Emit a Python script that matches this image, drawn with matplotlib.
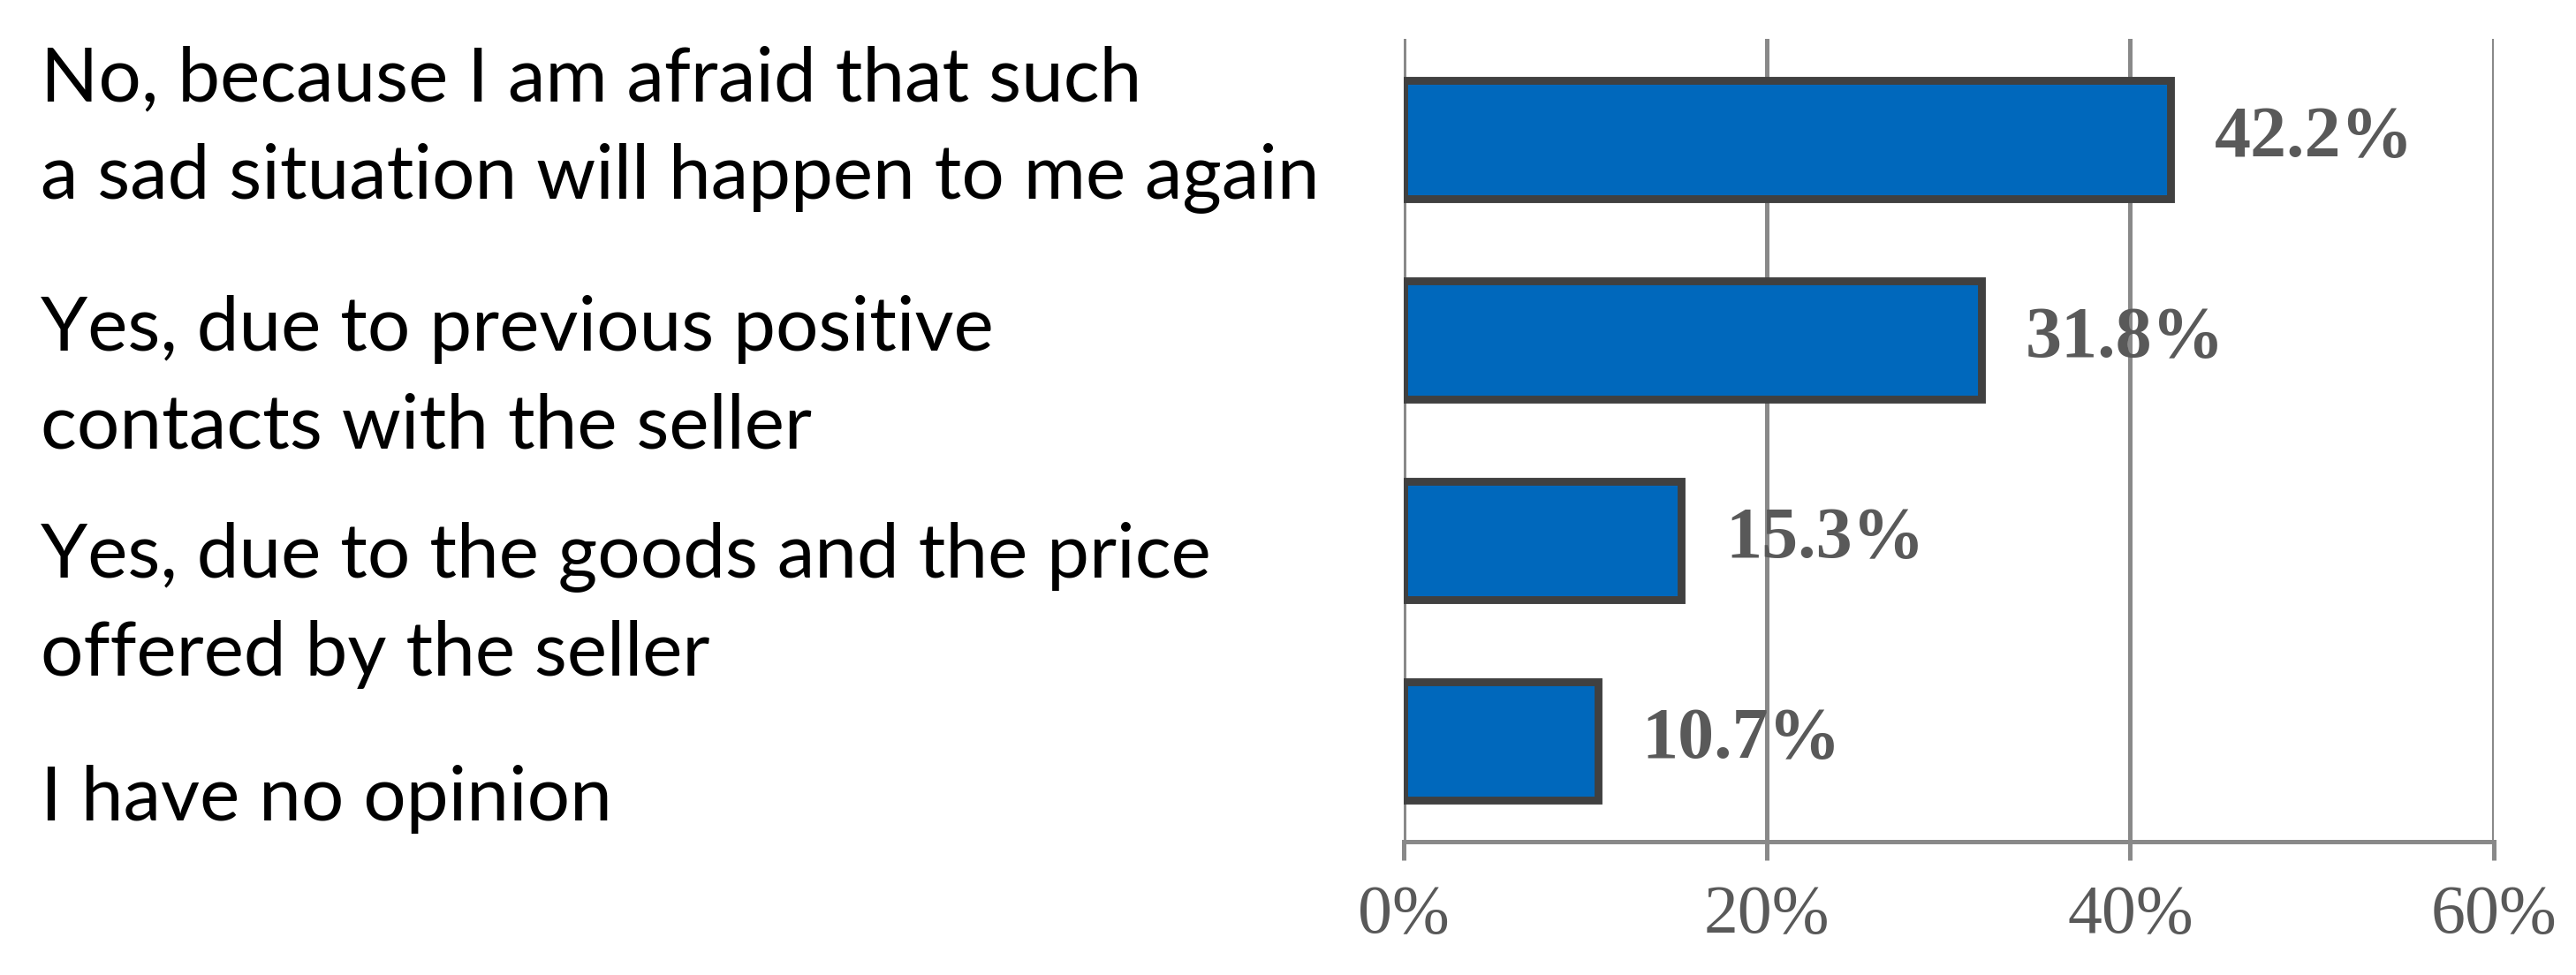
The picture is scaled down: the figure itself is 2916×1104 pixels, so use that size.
import matplotlib.pyplot as plt
import matplotlib.transforms as mtransforms

# survey answers, top to bottom
answers = [
    'No, because I am afraid that such\na sad situation will happen to me again',
    'Yes, due to previous positive\ncontacts with the seller',
    'Yes, due to the goods and the price\noffered by the seller',
    'I have no opinion',
]
shares = [42.2, 31.8, 15.3, 10.7]
xticks = [0, 20, 40, 60]
xticklabels = ['0%', '20%', '40%', '60%']

# vertical nudge of each answer text relative to its bar (last-line baseline)
label_shift = [0.293, 0.539, 0.675, 0.397]

fig = plt.figure(figsize=(14.58, 5.52), dpi=200)
ax = fig.add_axes([0.5448, 0.1372, 0.4232, 0.8229])

pos = range(len(shares))
ax.barh(pos, shares, height=0.59, color='#0068BC', edgecolor='#404040', linewidth=3.2, zorder=3)

ax.set_xlim(0, 60)
ax.set_ylim(len(shares) - 0.5, -0.5)
ax.set_xticks(xticks)
ax.set_xticklabels(xticklabels, family='Liberation Serif', fontsize=28, color='#595959')
ax.set_yticks([])
ax.tick_params(axis='x', length=7.6, width=1.8, color='#898989', pad=10)
ax.grid(axis='x', color='#898989', linewidth=1.8, zorder=0)

for side in ['top', 'right', 'left']:
    ax.spines[side].set_visible(False)
ax.spines['bottom'].set_color('#898989')
ax.spines['bottom'].set_linewidth(1.8)

# value labels
for i, v in enumerate(shares):
    ax.annotate('%.1f%%' % v, (v, i), xytext=(18, 0), textcoords='offset points',
                va='center', ha='left', family='Liberation Serif', fontweight='bold',
                fontsize=29.5, color='#595959')

# answer texts on the left
trans = mtransforms.blended_transform_factory(fig.transFigure, ax.transData)
for i, txt in enumerate(answers):
    ax.text(0.0158, i + label_shift[i], txt, transform=trans, ha='left', va='baseline',
            family='Lato', fontsize=30.8, color='black', linespacing=1.51)

fig.savefig('out.png', dpi=200)
